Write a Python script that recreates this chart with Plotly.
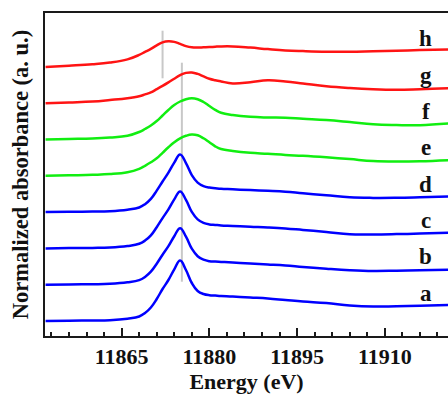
import plotly.graph_objects as go

# Energy grid (eV)
energy = [11852, 11856, 11860, 11863, 11866, 11868, 11869, 11870, 11871, 11872, 11873,
          11874, 11875, 11876, 11877, 11878, 11879, 11880, 11881, 11882, 11884, 11887,
          11890, 11893, 11896, 11900, 11904, 11908, 11912, 11916, 11921]

# Normalized absorbance (a.u.) of each sample, before vertical offset
spec_a = [0, 0.3, 0.5, 0.8, 2.3, 4.5, 8, 13.5, 22, 32, 41, 51.7, 60.5, 51, 38, 30, 27, 25.8, 25.4,
          25, 24.5, 23.5, 22.5, 21, 19.5, 18, 15.6, 14.5, 14.8, 15.2, 16]
spec_b = [0, 0.3, 0.5, 0.9, 2.4, 4.6, 7.8, 13, 21, 30, 38.5, 48.5, 56.5, 48, 36, 28.5, 25, 23.5, 23.1,
          22.8, 22.2, 21.2, 20.3, 19.3, 17.8, 16, 14.5, 13.7, 14, 14.5, 15]
spec_c = [0, 0.3, 0.5, 0.9, 2.4, 4.6, 7.8, 13, 21.2, 30.3, 39, 49, 57, 48.5, 36.5, 29, 25.5, 24, 23.5,
          23, 22.5, 21.7, 21, 20, 18.5, 16.5, 14.2, 14, 14.3, 14.8, 15.6]
spec_d = [0, 0.3, 0.5, 0.9, 2.4, 4.6, 7.9, 13.2, 21.5, 30.6, 39.5, 49.5, 57.7, 49, 37, 29.5, 26, 24.5, 23.9,
          23.3, 22.8, 22, 21.3, 20.4, 18.8, 16.8, 14.8, 14.2, 14.3, 14.8, 15.6]
spec_e = [0, 0.5, 1, 1.7, 3.6, 7, 10, 13.5, 17.5, 23, 28.5, 33.5, 37.5, 40, 41.3, 40.5, 37.5, 33.5, 29.5,
          26.8, 24.8, 23, 22, 20.8, 20, 18.5, 16.7, 14.8, 14.3, 14.6, 15.7]
spec_f = [0, 0.5, 1, 2, 3.8, 7.5, 10.5, 14, 18.5, 24, 29.5, 34.5, 38, 40.3, 41.2, 40.3, 37.5, 33.5, 29.7,
          26.8, 24.5, 22.7, 22, 21.7, 20.7, 19.5, 17.5, 15.3, 14.5, 14.3, 16]
spec_g = [0, 0.8, 1.7, 3.2, 5, 7, 8.8, 10.8, 14, 17.3, 20.8, 24.5, 28, 30.3, 30.7, 29.3, 26.8, 24.5, 23,
          21.8, 19.8, 21, 23, 21.8, 19.8, 17, 15.2, 14, 13.5, 14, 15]
spec_h = [0, 1.2, 2.6, 4.3, 7.5, 12, 15, 18, 21.5, 24.5, 25.6, 25, 23, 20.8, 19.6, 19.4, 19.6, 19.8, 20.2,
          20.5, 20.5, 19.3, 17.8, 16.5, 15.8, 15.2, 15.2, 15.7, 16.2, 16.8, 17.4]

labels = ["a", "b", "c", "d", "e", "f", "g", "h"]
spectra = [spec_a, spec_b, spec_c, spec_d, spec_e, spec_f, spec_g, spec_h]
colors = ["#0000ff", "#0000ff", "#0000ff", "#0000ff", "#11ee11", "#11ee11", "#ff1414", "#ff1414"]
offset_step = 36.3

# Reference edge-position markers: energy, bottom and top (a.u.)
marker_energy = [11875.3, 11872.0]
marker_bottom = [39.3, 242.7]
marker_top = [258.3, 290.3]

x_range = [11851.9, 11920.8]
y_range = [-15, 308]

fig = go.Figure()

for e, lo, hi in zip(marker_energy, marker_bottom, marker_top):
    fig.add_trace(go.Scatter(x=[e, e], y=[lo, hi], mode="lines",
                             line=dict(color="#c8c8c8", width=2), hoverinfo="skip"))

for i, (lab, spec, col) in enumerate(zip(labels, spectra, colors)):
    off = i * offset_step
    fig.add_trace(go.Scatter(x=energy, y=[v + off for v in spec], mode="lines",
                             line=dict(color=col, width=2.5, shape="spline", smoothing=1.2),
                             name=lab))
    fig.add_annotation(x=11917.0, y=off + 28, text=lab, showarrow=False,
                       xanchor="center", yanchor="middle",
                       font=dict(family="Liberation Serif", size=23, color="#111111", weight="bold"))

font_axis = dict(family="Liberation Serif", size=22, color="#111111", weight="bold")

fig.update_layout(
    width=448, height=395,
    margin=dict(l=45, r=0, t=13, b=59),
    paper_bgcolor="white", plot_bgcolor="white",
    showlegend=False,
    xaxis=dict(range=x_range, showgrid=False, zeroline=False, automargin=False,
               showline=True, linecolor="#1a1a1a", linewidth=2, mirror=True,
               ticks="inside", ticklen=8, tickwidth=2, tickcolor="#1a1a1a",
               tick0=11865, dtick=15, tickformat="d", tickfont=font_axis, ticklabelstandoff=0,
               minor=dict(ticks="inside", ticklen=4, tickwidth=1.5, tickcolor="#1a1a1a",
                          tick0=11865, dtick=3),
               title=dict(text="Energy (eV)", font=font_axis, standoff=2)),
    yaxis=dict(range=y_range, showgrid=False, zeroline=False, automargin=False,
               showline=True, linecolor="#1a1a1a", linewidth=2,
               showticklabels=False, ticks="",
               title=dict(text="Normalized absorbance (a. u.)",
                          font=dict(family="Liberation Serif", size=22.5, color="#111111", weight="bold"),
                          standoff=8)),
)

fig.write_html("out.html", config={"displayModeBar": False},
               post_script="document.body.style.margin='0';document.body.style.overflow='hidden';")
